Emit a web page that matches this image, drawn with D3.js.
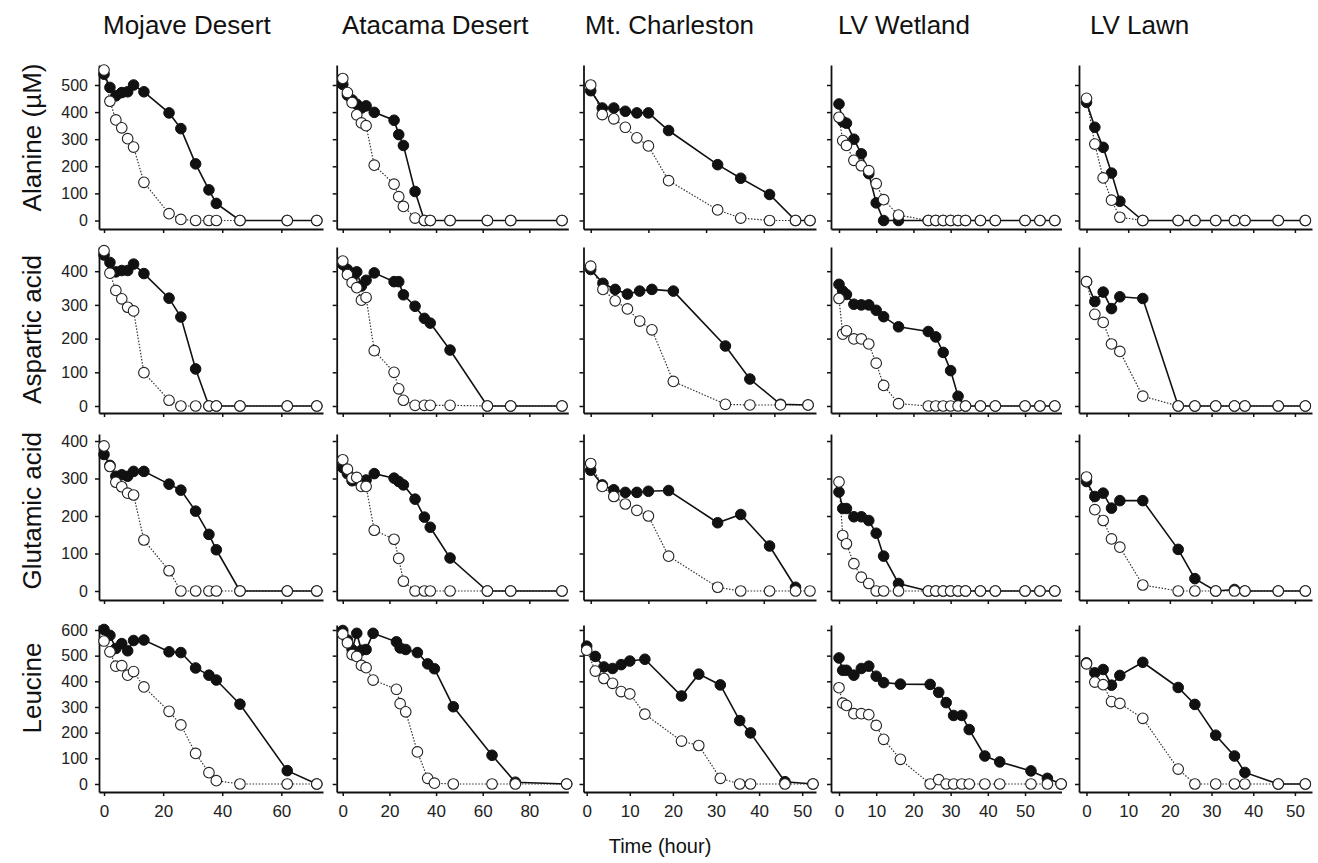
<!DOCTYPE html>
<html>
<head>
<meta charset="utf-8">
<script src="https://cdnjs.cloudflare.com/ajax/libs/d3/7.8.5/d3.min.js"></script>
<style>
  body { margin: 0; background: #fff; }
  svg { display: block; font-family: "Liberation Sans", Arial, sans-serif; }
  .domain { stroke: #111; stroke-width: 1.8; }
  .tick line { stroke: #111; stroke-width: 1.5; }
  .tick text { fill: #222; font-family: "Liberation Sans", Arial, sans-serif; }
  .y-axis text { font-size: 16px; }
  .x-axis text { font-size: 17px; }
  .line-dark { fill: none; stroke: #111; stroke-width: 1.6; }
  .line-light { fill: none; stroke: #333; stroke-width: 1.2; stroke-dasharray: 1.5 1.6; }
  .dot-dark { fill: #111; stroke: #111; stroke-width: 1; }
  .dot-light { fill: #fff; stroke: #222; stroke-width: 1.1; }
  .title, .row-label, .axis-label { fill: #111; }
</style>
</head>
<body>
<svg id="chart" width="1318" height="863"></svg>
<script>
const sites = ["Mojave Desert", "Atacama Desert", "Mt. Charleston", "LV Wetland", "LV Lawn"];
const aminoAcids = ["Alanine (µM)", "Aspartic acid", "Glutamic acid", "Leucine"];
const xAxisLabel = "Time (hour)";

// tick values
const yTicksByRow = [
  [0, 100, 200, 300, 400, 500],
  [0, 100, 200, 300, 400],
  [0, 100, 200, 300, 400],
  [0, 100, 200, 300, 400, 500, 600],
];
const xTicksMojave = [0, 20, 40, 60];
const xTicksAtacama = [0, 20, 40, 60, 80];
const xTicksCharlestonTop = [0, 20, 40, 60];
const xTicksTen = [0, 10, 20, 30, 40, 50];

// Mojave Desert
const mojaveTime = [0, 2, 4, 6, 8, 10, 13.5, 22, 26, 31, 35.5, 38, 46, 62, 72];
const mojaveAlanineDark = [540, 491, 460, 472, 475, 500, 475, 397, 339, 209, 113, 63, 0, 0, 0];
const mojaveAlanineLight = [555, 440, 371, 342, 302, 271, 141, 25, 4, 0, 0, 0, 0, 0, 0];
const mojaveAsparticDark = [448, 426, 398, 402, 402, 421, 393, 320, 264, 110, 0, 0, 0, 0, 0];
const mojaveAsparticLight = [461, 394, 343, 318, 293, 282, 99, 17, 0, 0, 0, 0, 0, 0, 0];
const mojaveGlutamicDark = [364, 335, 306, 310, 306, 319, 319, 285, 269, 213, 151, 110, 0, 0, 0];
const mojaveGlutamicLight = [387, 332, 290, 278, 261, 256, 136, 54, 0, 0, 0, 0, 0, 0, 0];
const mojaveLeucineDark = [602, 579, 528, 547, 519, 559, 561, 515, 512, 452, 424, 405, 311, 52, 0];
const mojaveLeucineLight = [557, 515, 459, 461, 424, 438, 378, 283, 230, 119, 44, 13, 0, 0, 0];

// Atacama Desert
const atacamaTime = [0, 2, 4, 6, 8, 10, 13.5, 22, 24, 26, 31, 35, 37.5, 46, 62, 72, 94];
const atacamaAlanineDark = [502, 463, 445, 429, 415, 423, 399, 370, 317, 277, 107, 0, 0, 0, 0, 0, 0];
const atacamaAlanineLight = [524, 472, 435, 390, 360, 350, 204, 134, 88, 52, 9, 0, 0, 0, 0, 0, 0];
const atacamaAsparticDark = [420, 405, 380, 398, 356, 373, 395, 369, 369, 330, 296, 260, 246, 166, 0, 0, 0];
const atacamaAsparticLight = [430, 390, 366, 351, 314, 322, 164, 100, 51, 17, 2, 2, 2, 2, 0, 0, 0];
const atacamaGlutamicDark = [329, 313, 294, 296, 290, 296, 313, 301, 292, 283, 245, 197, 170, 88, 0, 0, 0];
const atacamaGlutamicLight = [350, 325, 301, 303, 279, 279, 162, 138, 87, 26, 0, 0, 0, 0, 0, 0, 0];
const atacamaLeucineTime = [0, 2, 4, 6, 8, 10, 13, 23, 24.6, 27, 32, 36.4, 39.3, 47.4, 64, 74, 96];
const atacamaLeucineDark = [598, 561, 524, 587, 521, 524, 587, 554, 530, 524, 512, 468, 449, 301, 112, 7, 0];
const atacamaLeucineLight = [584, 550, 504, 497, 462, 453, 405, 369, 313, 281, 125, 22, 3, 0, 0, 0, 0];

// Mt. Charleston (top three panels use their own, wider time axis)
const charlestonTime = [0, 4, 8, 12, 16, 20, 27, 44, 52, 62, 71, 76];
const charlestonAlanineDark = [479, 415, 415, 403, 397, 397, 332, 206, 156, 96, 0, 0];
const charlestonAlanineLight = [500, 391, 375, 344, 305, 275, 147, 39, 9, 0, 0, 0];
const charlestonAsparticTime = [0, 4, 8, 12, 16, 20, 27, 44, 52, 62, 71];
const charlestonAsparticDark = [405, 364, 346, 332, 341, 346, 341, 178, 80, 5, 3];
const charlestonAsparticLight = [415, 346, 312, 288, 252, 226, 73, 5, 3, 3, 3];
const charlestonGlutamicDark = [322, 283, 270, 263, 263, 266, 268, 182, 204, 120, 10, null];
const charlestonGlutamicLight = [340, 279, 252, 232, 215, 200, 93, 10, 0, 0, 0, 0];
const charlestonLeucineTime = [0, 2, 4, 6, 8, 10, 13.5, 22, 26, 31, 35.5, 38, 46, 52.5];
const charlestonLeucineDark = [537, 497, 456, 450, 465, 479, 486, 343, 428, 386, 247, 199, 9, 0];
const charlestonLeucineLight = [521, 440, 411, 392, 360, 351, 272, 167, 150, 22, 0, 0, 0, 0];

// LV Wetland
const wetlandTime = [0, 1, 2, 4, 6, 8, 10, 12, 16, 24, 26, 28, 30, 32, 34, 38, 42, 50, 54, 58];
const wetlandAlanineDark = [430, 365, 359, 300, 246, 173, 65, 0, 0, 0, 0, 0, 0, 0, 0, 0, 0, 0, 0, 0];
const wetlandAlanineLight = [381, 295, 277, 222, 202, 184, 136, 77, 20, 0, 0, 0, 0, 0, 0, 0, 0, 0, 0, 0];
const wetlandAsparticDark = [361, 341, 331, 302, 300, 300, 284, 265, 235, 221, 205, 159, 105, 29, 0, 0, 0, 0, 0, 0];
const wetlandAsparticLight = [319, 213, 223, 199, 199, 184, 127, 61, 7, 0, 0, 0, 0, 0, 0, 0, 0, 0, 0, 0];
const wetlandGlutamicDark = [264, 220, 220, 198, 198, 188, 154, 93, 20, 0, 0, 0, 0, 0, 0, 0, 0, 0, 0, 0];
const wetlandGlutamicLight = [291, 148, 126, 73, 37, 20, 0, 0, 0, 0, 0, 0, 0, 0, 0, 0, 0, 0, 0, 0];
const wetlandLeucineTime = [0, 1, 2, 4, 6, 8, 10, 12, 16.5, 24.5, 26.8, 28.8, 30.8, 33, 35, 39.2, 43.2, 51.6, 56, 59.7];
const wetlandLeucineDark = [491, 443, 443, 424, 450, 459, 420, 395, 389, 388, 357, 317, 267, 267, 212, 109, 86, 51, 22, 0];
const wetlandLeucineLight = [375, 315, 306, 274, 274, 270, 228, 174, 96, 0, 17, 0, 0, 0, 0, 0, 0, 0, 0, 0];

// LV Lawn
const lawnTime = [0, 2, 4, 6, 8, 13.5, 22, 26, 31, 35.5, 38, 46, 52.5];
const lawnAlanineDark = [436, 344, 270, 175, 71, 0, 0, 0, 0, 0, 0, 0, 0];
const lawnAlanineLight = [451, 282, 157, 75, 12, 0, 0, 0, 0, 0, 0, 0, 0];
const lawnAsparticDark = [369, 310, 338, 289, 324, 319, 0, 0, 0, 0, 0, 0, 0];
const lawnAsparticLight = [369, 272, 248, 184, 162, 29, 0, 0, 0, 0, 0, 0, 0];
const lawnGlutamicDark = [292, 252, 261, 221, 241, 241, 111, 33, 0, 4, 0, 0, 0];
const lawnGlutamicLight = [304, 217, 188, 139, 117, 16, 0, 0, 0, 0, 0, 0, 0];
const lawnLeucineDark = [472, 433, 446, 385, 423, 474, 376, 310, 190, 109, 45, 0, 0];
const lawnLeucineLight = [468, 397, 387, 321, 314, 256, 58, 0, 0, 0, 0, 0, 0];

//layout: pixel extent of every column / row of panels
const colX = [[99, 323], [336.7, 568.3], [583.5, 816], [831, 1061.5], [1079, 1312]];
const rowY = [[65, 229], [247, 413], [434, 600], [625, 792]];
const yDomains = [[-31.4, 573.8], [-20.8, 471.8], [-24, 418.7], [-31.2, 619.4]];
const colXDomains = [[-1.7, 74.1], [-2.6, 96.7], [-0.74, 53.2], [-2.15, 59.8], [-1.8, 54.1]];
const titleX = [103, 342, 585, 838, 1090];
const rowLabelY = [137.5, 329.5, 510.7, 688];
const circleRadius = 5.3;

const panels = [
  { row: 0, col: 0, time: mojaveTime, dark: mojaveAlanineDark, light: mojaveAlanineLight, xTicks: xTicksMojave },
  { row: 1, col: 0, time: mojaveTime, dark: mojaveAsparticDark, light: mojaveAsparticLight, xTicks: xTicksMojave },
  { row: 2, col: 0, time: mojaveTime, dark: mojaveGlutamicDark, light: mojaveGlutamicLight, xTicks: xTicksMojave },
  { row: 3, col: 0, time: mojaveTime, dark: mojaveLeucineDark, light: mojaveLeucineLight, xTicks: xTicksMojave },

  { row: 0, col: 1, time: atacamaTime, dark: atacamaAlanineDark, light: atacamaAlanineLight, xTicks: xTicksAtacama },
  { row: 1, col: 1, time: atacamaTime, dark: atacamaAsparticDark, light: atacamaAsparticLight, xTicks: xTicksAtacama },
  { row: 2, col: 1, time: atacamaTime, dark: atacamaGlutamicDark, light: atacamaGlutamicLight, xTicks: xTicksAtacama },
  { row: 3, col: 1, time: atacamaLeucineTime, dark: atacamaLeucineDark, light: atacamaLeucineLight, xTicks: xTicksAtacama },

  { row: 0, col: 2, time: charlestonTime, dark: charlestonAlanineDark, light: charlestonAlanineLight, xTicks: xTicksCharlestonTop, xDomain: [-2.5, 78.1] },
  { row: 1, col: 2, time: charlestonAsparticTime, dark: charlestonAsparticDark, light: charlestonAsparticLight, xTicks: xTicksCharlestonTop, xDomain: [-2.35, 73.6] },
  { row: 2, col: 2, time: charlestonTime, dark: charlestonGlutamicDark, light: charlestonGlutamicLight, xTicks: xTicksCharlestonTop, xDomain: [-2.5, 78.1] },
  { row: 3, col: 2, time: charlestonLeucineTime, dark: charlestonLeucineDark, light: charlestonLeucineLight, xTicks: xTicksTen },

  { row: 0, col: 3, time: wetlandTime, dark: wetlandAlanineDark, light: wetlandAlanineLight, xTicks: xTicksTen },
  { row: 1, col: 3, time: wetlandTime, dark: wetlandAsparticDark, light: wetlandAsparticLight, xTicks: xTicksTen },
  { row: 2, col: 3, time: wetlandTime, dark: wetlandGlutamicDark, light: wetlandGlutamicLight, xTicks: xTicksTen },
  { row: 3, col: 3, time: wetlandLeucineTime, dark: wetlandLeucineDark, light: wetlandLeucineLight, xTicks: xTicksTen },

  { row: 0, col: 4, time: lawnTime, dark: lawnAlanineDark, light: lawnAlanineLight, xTicks: xTicksTen },
  { row: 1, col: 4, time: lawnTime, dark: lawnAsparticDark, light: lawnAsparticLight, xTicks: xTicksTen },
  { row: 2, col: 4, time: lawnTime, dark: lawnGlutamicDark, light: lawnGlutamicLight, xTicks: xTicksTen },
  { row: 3, col: 4, time: lawnTime, dark: lawnLeucineDark, light: lawnLeucineLight, xTicks: xTicksTen },
];

const svg = d3.select("#chart");

const drawPanel = (selection, props) => {
  const { row, col, time, dark, light, xTicks } = props;
  const xDomain = props.xDomain || colXDomains[col];
  const [x0, x1] = colX[col];
  const [y0, y1] = rowY[row];

  const xScale = d3.scaleLinear().domain(xDomain).range([x0, x1]);
  const yScale = d3.scaleLinear().domain(yDomains[row]).range([y1, y0]);

  const g = selection.append("g").attr("class", "panel");

  const yAxis = d3
    .axisLeft(yScale)
    .tickValues(yTicksByRow[row])
    .tickSize(4)
    .tickSizeOuter(0)
    .tickPadding(7);
  if (col !== 0) yAxis.tickFormat("");

  g.append("g")
    .attr("class", "y-axis")
    .attr("transform", `translate(${x0},0)`)
    .call(yAxis);

  const xAxis = d3
    .axisBottom(xScale)
    .tickValues(xTicks)
    .tickSize(4)
    .tickSizeOuter(0)
    .tickPadding(9);
  if (row !== 3) xAxis.tickFormat("");

  g.append("g")
    .attr("class", "x-axis")
    .attr("transform", `translate(0,${y1})`)
    .call(xAxis);

  const toPoints = (values) => time.map((t, i) => ({ t, v: values[i] }));
  const darkPoints = toPoints(dark);
  const lightPoints = toPoints(light);

  const lineGenerator = d3
    .line()
    .defined((d) => d.v != null)
    .x((d) => xScale(d.t))
    .y((d) => yScale(d.v));

  g.append("path").attr("class", "line-light").attr("d", lineGenerator(lightPoints));
  g.append("path").attr("class", "line-dark").attr("d", lineGenerator(darkPoints));

  g.selectAll(".dot-dark")
    .data(darkPoints.filter((d) => d.v != null))
    .enter()
    .append("circle")
    .attr("class", "dot-dark")
    .attr("cx", (d) => xScale(d.t))
    .attr("cy", (d) => yScale(d.v))
    .attr("r", circleRadius);

  g.selectAll(".dot-light")
    .data(lightPoints.filter((d) => d.v != null))
    .enter()
    .append("circle")
    .attr("class", "dot-light")
    .attr("cx", (d) => xScale(d.t))
    .attr("cy", (d) => yScale(d.v))
    .attr("r", circleRadius);
};

panels.forEach((p) => drawPanel(svg, p));

//column titles
svg.selectAll(".title")
  .data(sites)
  .enter()
  .append("text")
  .attr("class", "title")
  .attr("x", (d, i) => titleX[i])
  .attr("y", 34)
  .attr("font-size", 26)
  .text((d) => d);

//row labels
svg.selectAll(".row-label")
  .data(aminoAcids)
  .enter()
  .append("text")
  .attr("class", "row-label")
  .attr("text-anchor", "middle")
  .attr("font-size", 26)
  .attr("transform", (d, i) => `translate(41,${rowLabelY[i]}) rotate(-90)`)
  .text((d) => d);

svg.append("text")
  .attr("class", "axis-label")
  .attr("x", 660)
  .attr("y", 853)
  .attr("text-anchor", "middle")
  .attr("font-size", 20)
  .text(xAxisLabel);
</script>
</body>
</html>
